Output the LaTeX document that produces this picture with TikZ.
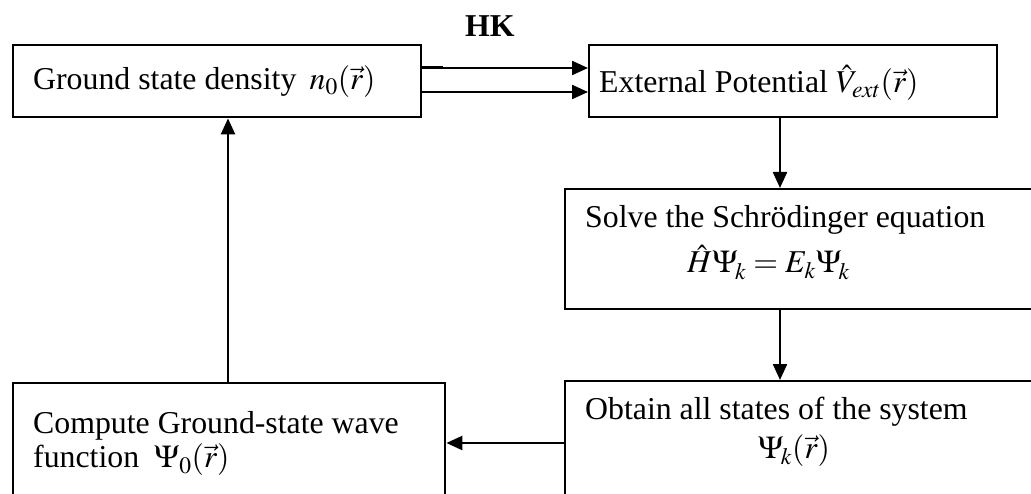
\documentclass[tikz,border=0pt]{standalone}
\usepackage{mathptmx}
\usepackage[no-math]{fontspec}
\setmainfont{Liberation Serif}
\usetikzlibrary{arrows.meta}
\begin{document}
\begin{tikzpicture}[x=1pt,y=-1pt,
  box/.style={draw,line width=2.4pt,rectangle,inner sep=0pt,anchor=north west},
  txt/.style={anchor=base west,inner sep=0pt,font=\fontsize{31.8pt}{38pt}\selectfont},
  arr/.style={line width=2.3pt,-{Triangle[length=16pt,width=14pt]}}]
\useasboundingbox (0,0) rectangle (1031,494);
\clip (0,0) rectangle (1031,494);
% boxes
\node[box,minimum width=408pt,minimum height=72pt] (b1) at (12,44) {};
\node[box,minimum width=408pt,minimum height=72pt] (b2) at (588,44) {};
\node[box,minimum width=480pt,minimum height=120pt] (b3) at (564,188) {};
\node[box,minimum width=480pt,minimum height=140pt] (b4) at (564,380) {};
\node[box,minimum width=432pt,minimum height=140pt] (b5) at (12,382) {};
% texts
\node[txt,font=\fontsize{31.8pt}{38pt}\selectfont\bfseries] (hk) at (465,37) {HK};
\node[txt] (t1) at (33,90) {Ground state density \,$n_0(\vec{r})$};
\node[txt] (t2) at (599,93) {External Potential $\hat{V}_{ext}(\vec{r})$};
\node[txt] (t3a) at (585,228) {Solve the Schrödinger equation};
\node[txt] (t3b) at (687,273) {$\hat{H}\Psi_{\!\vphantom{(}k}=E_{k}\Psi_{\!\vphantom{(}k}$};
\node[txt] (t4a) at (585,419) {Obtain all states of the system};
\node[txt] (t4b) at (758,458) {$\Psi_{\!\vphantom{(}k}(\vec{r})$};
\node[txt] (t5a) at (33,433) {Compute Ground-state wave};
\node[txt] (t5b) at (33,467) {function\hspace{15pt}$\Psi_{\vphantom{(}0}(\vec{r})$};
% helper coordinates
\coordinate (ya) at (0,68);
\coordinate (yb) at (0,92);
\coordinate (ys) at (443,68);
\coordinate (xa) at (780,0);
\coordinate (xb) at (228,0);
\coordinate (yc) at (0,443);
% connectors
\draw[line width=3pt] (b1.east |- ya) -- (ys);
\draw[arr] (b1.east |- ya) -- (b2.west |- ya);
\draw[arr] (b1.east |- yb) -- (b2.west |- yb);
\draw[arr] (b2.south -| xa) -- (b3.north -| xa);
\draw[arr] (b3.south -| xa) -- (b4.north -| xa);
\draw[arr] (b4.west |- yc) -- (b5.east |- yc);
\draw[arr] (b5.north -| xb) -- (b1.south -| xb);
\end{tikzpicture}
\end{document}
